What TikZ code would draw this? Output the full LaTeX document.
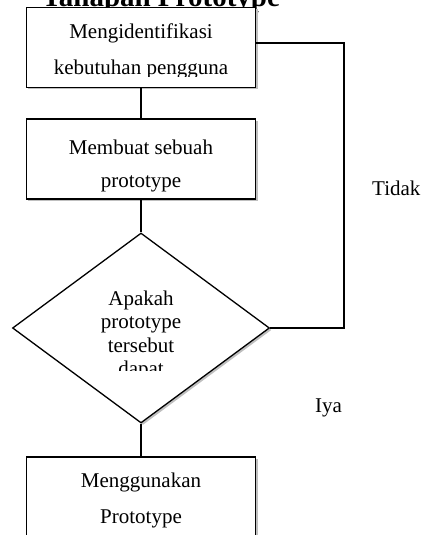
\documentclass[tikz,border=0pt]{standalone}
\usepackage{fontspec}
\setmainfont{Liberation Serif}
\usetikzlibrary{shapes.geometric,shadows,positioning}

\begin{document}
\begin{tikzpicture}[
    x=1bp, y=-1bp,
    stepbox/.style={draw, line width=1.4bp, fill=white, minimum width=229bp, minimum height=80bp, inner sep=0pt,
        drop shadow={shadow xshift=2bp, shadow yshift=-2bp, fill=gray!50, opacity=1}},
    decision/.style={diamond, draw, line width=1.3bp, fill=white, minimum width=257bp, minimum height=190bp, inner sep=0pt,
        drop shadow={shadow xshift=2bp, shadow yshift=-2bp, fill=gray!50, opacity=1}},
    steptext/.style={font=\fontsize{21bp}{36bp}\selectfont, align=center, inner sep=0pt, anchor=base},
    flow/.style={line width=1.3bp},
]

\useasboundingbox (0,0) rectangle (420,535);
\clip (0,0) rectangle (420,535);

% Title (cut at the top of the page)
\node[font=\bfseries\fontsize{29bp}{30bp}\selectfont, anchor=base west, inner sep=0pt] (title) at (42,7) {Tahapan Prototype};

% Boxes
\node[stepbox] (identify) at (141,47.5) {};
\node[stepbox] (build) at (141,159) {};
\node[decision] (check) at (141,328) {};
\node[stepbox, minimum height=95bp] (use) at (141,504.5) {};

% Texts
\begin{scope}
  \clip (30,10) rectangle (254,77);
  \node[steptext] (identifyA) at (141,39) {Mengidentifikasi};
  \node[steptext] (identifyB) at (141,75) {kebutuhan pengguna};
\end{scope}
\node[steptext] (buildA) at (141,155) {Membuat sebuah};
\node[steptext] (buildB) at (141,188) {prototype};
\begin{scope}
  \clip (60,270) rectangle (220,370);
  \node[steptext] (checkA) at (141,305) {Apakah};
  \node[steptext] (checkB) at (141,328.5) {prototype};
  \node[steptext] (checkC) at (141,352) {tersebut};
  \node[steptext] (checkD) at (141,375.5) {dapat};
\end{scope}
\node[steptext] (useA) at (141,487) {Menggunakan};
\node[steptext] (useB) at (141,523) {Prototype};

% Connectors
\draw[flow] (identify) -- (build);
\draw[flow] (build) -- (check);
\draw[flow] (check) -- (use);
\coordinate (back) at (344,43);
\draw[flow] (check.east) -| (back) -- (identify.east |- back);

% Answers
\node[font=\fontsize{21bp}{24bp}\selectfont, anchor=base west, inner sep=0pt] (no) at (372,196) {Tidak};
\node[font=\fontsize{21bp}{24bp}\selectfont, anchor=base west, inner sep=0pt] (yes) at (315,412) {Iya};

\end{tikzpicture}
\end{document}
